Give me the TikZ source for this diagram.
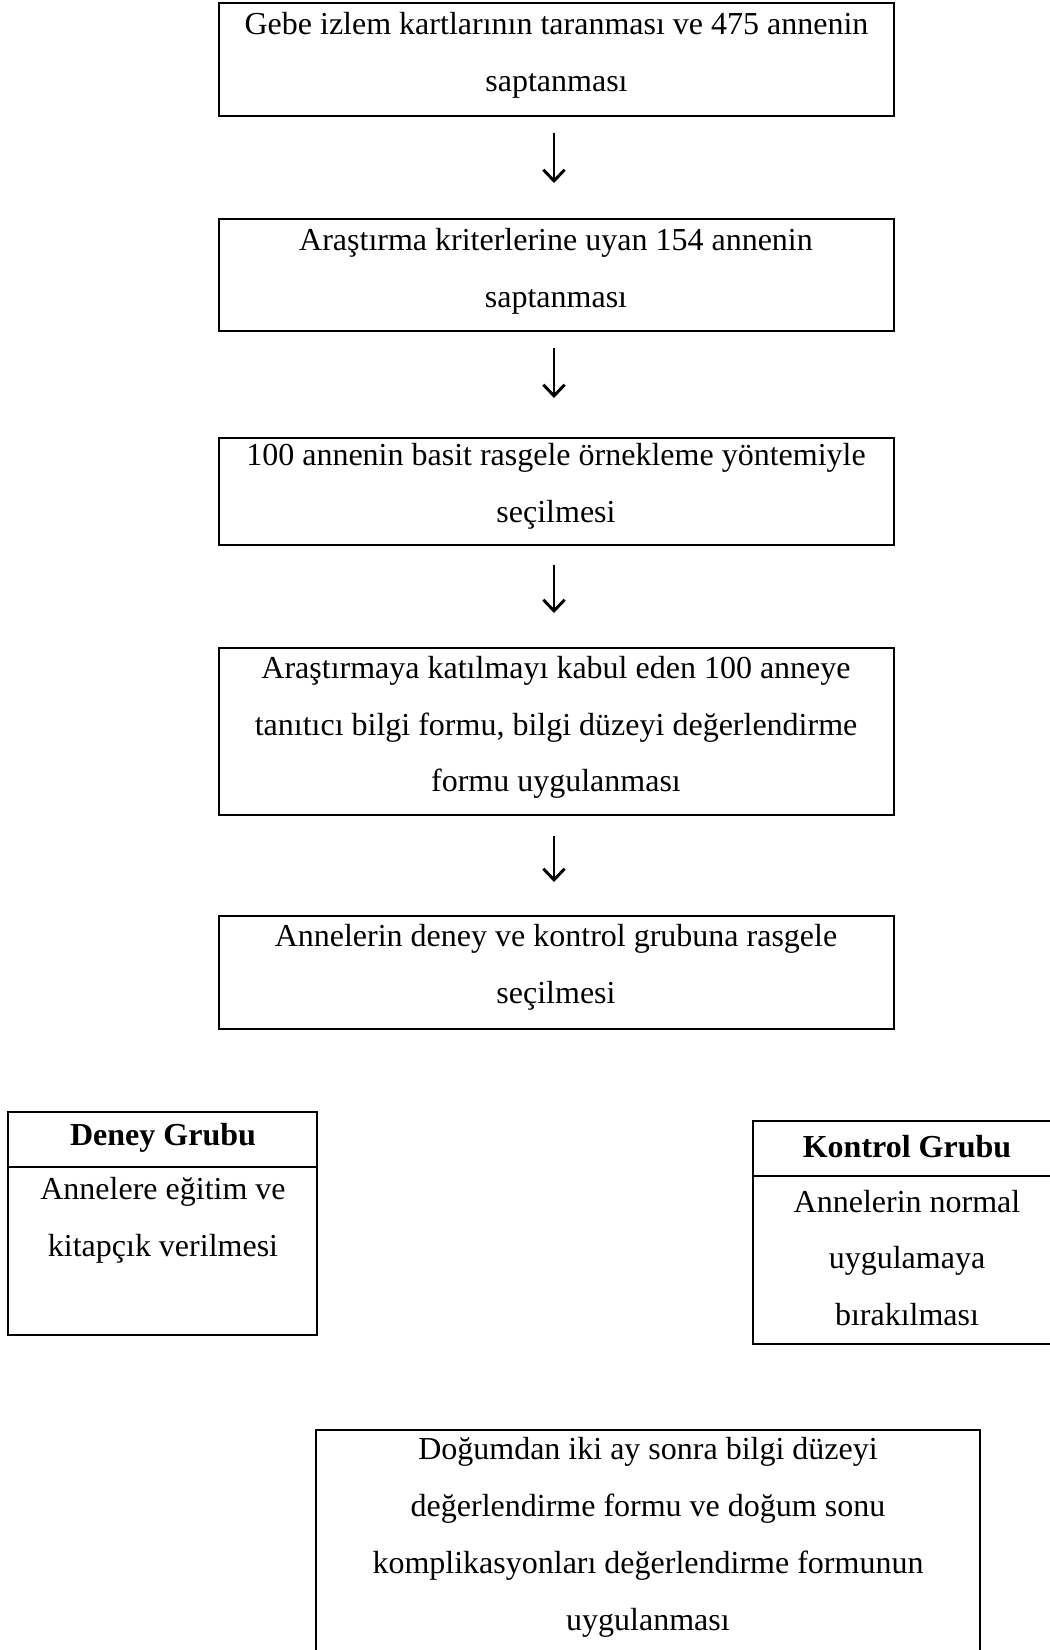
\documentclass[tikz,border=0pt]{standalone}
\usepackage{fontspec}
\setmainfont{Liberation Serif}
\usetikzlibrary{arrows.meta,fit}
\begin{document}
\begin{tikzpicture}[x=0.375pt,y=-0.375pt,
  box/.style={draw, line width=0.75pt, inner sep=0pt},
  txt/.style={align=center, inner sep=0pt, font=\fontsize{12}{21.3}\selectfont},
  flow/.style={line width=0.9pt, -{Straight Barb[length=4.2pt,width=8pt,line width=1.1pt]}}]
\clip (0,0) rectangle (1050,1650);
% main chain boxes
\node[box, fit={(219,3)(894,116)}] (b1) {};
\node[box, fit={(219,219)(894,331)}] (b2) {};
\node[box, fit={(219,438)(894,545)}] (b3) {};
\node[box, fit={(219,648)(894,815)}] (b4) {};
\node[box, fit={(219,916)(894,1029)}] (b5) {};
% texts
\node[txt] (t1) at (556.5,55) {Gebe izlem kartlarının taranması ve 475 annenin\\saptanması};
\node[txt] (t2) at (556,271) {Araştırma kriterlerine uyan 154 annenin\\saptanması};
\node[txt] (t3) at (556,486.5) {100 annenin basit rasgele örnekleme yöntemiyle\\seçilmesi};
\node[txt] (t4) at (556,727.5) {Araştırmaya katılmayı kabul eden 100 anneye\\tanıtıcı bilgi formu, bilgi düzeyi değerlendirme\\formu uygulanması};
\node[txt] (t5) at (556,967.5) {Annelerin deney ve kontrol grubuna rasgele\\seçilmesi};
% arrows
\coordinate (a1s) at (554,133); \coordinate (a1e) at (554,183);
\coordinate (a2s) at (554,348); \coordinate (a2e) at (554,398);
\coordinate (a3s) at (554,565); \coordinate (a3e) at (554,613);
\coordinate (a4s) at (554,836); \coordinate (a4e) at (554,882);
\draw[flow] (a1s) -- (a1e);
\draw[flow] (a2s) -- (a2e);
\draw[flow] (a3s) -- (a3e);
\draw[flow] (a4s) -- (a4e);
% Deney group
\node[box, fit={(8,1112)(317,1167)}] (dh) {};
\node[box, fit={(8,1167)(317,1335)}] (db) {};
\node[txt, font=\fontsize{12}{21.3}\selectfont\bfseries] (dht) at (163,1138) {Deney Grubu};
\node[txt] (dbt) at (163,1220) {Annelere eğitim ve\\kitapçık verilmesi};
% Kontrol group
\node[box, fit={(753,1121)(1061,1176)}] (kh) {};
\node[box, fit={(753,1176)(1061,1344)}] (kb) {};
\node[txt, font=\fontsize{12}{21.3}\selectfont\bfseries] (kht) at (907,1147) {Kontrol Grubu};
\node[txt] (kbt) at (907,1258) {Annelerin normal\\uygulamaya\\bırakılması};
% final box
\node[box, fit={(316,1430)(980,1700)}] (b6) {};
\node[txt] (t6) at (648,1537.5) {Doğumdan iki ay sonra bilgi düzeyi\\değerlendirme formu ve doğum sonu\\komplikasyonları değerlendirme formunun\\uygulanması};
\end{tikzpicture}
\end{document}
